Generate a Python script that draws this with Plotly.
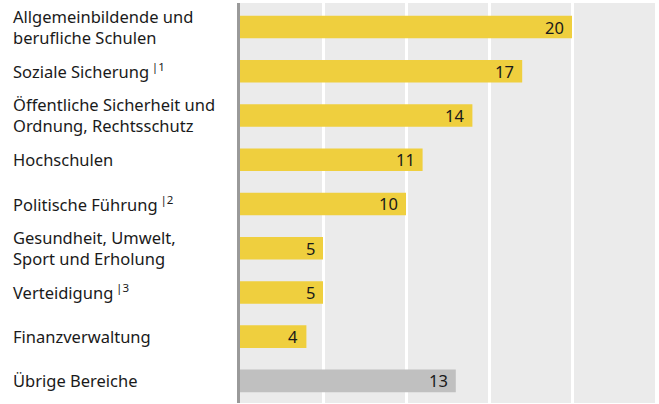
import plotly.graph_objects as go

# Kategorien (von oben nach unten) und Werte
categories = [
    "Allgemeinbildende und<br>berufliche Schulen",
    "Soziale Sicherung\u2009<sup>|1</sup>",
    "Öffentliche Sicherheit und<br>Ordnung, Rechtsschutz",
    "Hochschulen",
    "Politische Führung\u2009<sup>|2</sup>",
    "Gesundheit, Umwelt,<br>Sport und Erholung",
    "Verteidigung\u2009<sup>|3</sup>",
    "Finanzverwaltung",
    "Übrige Bereiche",
]
values = [20, 17, 14, 11, 10, 5, 5, 4, 13]
bar_colors = ["#EFCF3E"] * 8 + ["#C0C0C0"]

FONT = "Noto Sans"

fig = go.Figure()
fig.add_trace(
    go.Bar(
        x=values,
        y=categories,
        orientation="h",
        width=0.51,
        marker=dict(color=bar_colors, line=dict(width=0)),
        hoverinfo="skip",
    )
)

# Werte rechtsbündig in den Balken
for cat, v in zip(categories, values):
    fig.add_annotation(
        x=v, y=cat, xref="x", yref="y",
        text=str(v), showarrow=False,
        xanchor="right", xshift=-6,
        font=dict(family=FONT, size=16.5, color="#1a1a1a"),
    )

# Kategorienbeschriftung linksbündig
for cat in categories:
    fig.add_annotation(
        x=-0.552, y=cat, xref="paper", yref="y",
        text=cat, showarrow=False,
        xanchor="left", align="left",
        font=dict(family=FONT, size=16.5, color="#1a1a1a"),
    )

fig.update_layout(
    width=659, height=404,
    margin=dict(l=240, r=4, t=3, b=1),
    paper_bgcolor="white",
    plot_bgcolor="#EBEBEB",
    showlegend=False,
    bargap=0.49,
    xaxis=dict(
        range=[0, 25], dtick=5, showticklabels=False,
        showgrid=True, gridcolor="white", gridwidth=2.5,
        zeroline=False, fixedrange=True,
    ),
    yaxis=dict(
        autorange="reversed", showticklabels=False,
        showgrid=False, zeroline=False,
        showline=True, linecolor="#9A9A9A", linewidth=3,
        fixedrange=True,
    ),
)

fig.write_html(
    "out.html",
    config={"displayModeBar": False},
    post_script="document.body.style.margin='0';",
)
